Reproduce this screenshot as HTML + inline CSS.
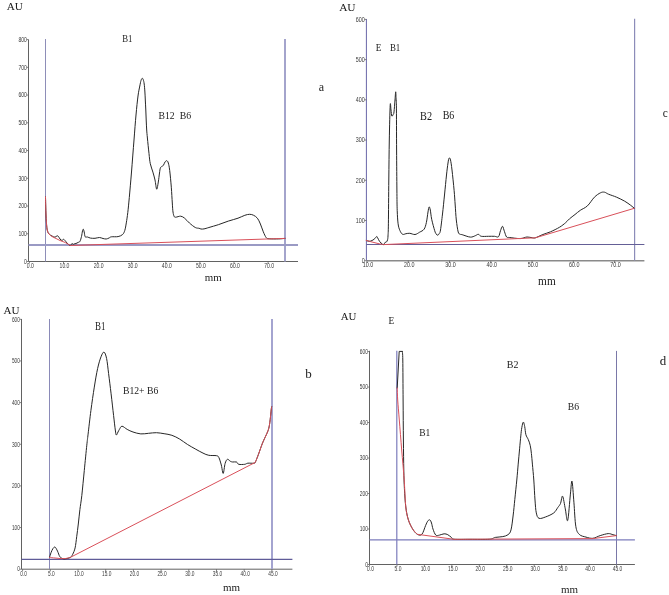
<!DOCTYPE html>
<html><head><meta charset="utf-8"><title>Chromatograms</title>
<style>
html,body{margin:0;padding:0;background:#fff;}
svg{display:block;}
.s{font-family:"Liberation Serif","Times New Roman",serif;fill:#1a1a1a;}
.t{font-family:"Liberation Sans",Arial,sans-serif;font-size:6.5px;fill:#3a3a3a;}
</style></head>
<body>
<svg width="669" height="595" viewBox="0 0 669 595">
<rect width="669" height="595" fill="#fff"/>
<line x1="28.5" y1="39.5" x2="28.5" y2="261.5" stroke="#626262" stroke-width="1"/>
<line x1="28.5" y1="261.5" x2="298" y2="261.5" stroke="#626262" stroke-width="1"/>
<line x1="26.7" y1="261.5" x2="28.5" y2="261.5" stroke="#626262" stroke-width="0.8"/>
<text transform="translate(26.90 263.75) scale(0.785 1)" class="t" text-anchor="end">0</text>
<line x1="26.7" y1="233.76" x2="28.5" y2="233.76" stroke="#626262" stroke-width="0.8"/>
<text transform="translate(26.90 236.01) scale(0.785 1)" class="t" text-anchor="end">100</text>
<line x1="26.7" y1="206.02" x2="28.5" y2="206.02" stroke="#626262" stroke-width="0.8"/>
<text transform="translate(26.90 208.27) scale(0.785 1)" class="t" text-anchor="end">200</text>
<line x1="26.7" y1="178.28" x2="28.5" y2="178.28" stroke="#626262" stroke-width="0.8"/>
<text transform="translate(26.90 180.53) scale(0.785 1)" class="t" text-anchor="end">300</text>
<line x1="26.7" y1="150.54" x2="28.5" y2="150.54" stroke="#626262" stroke-width="0.8"/>
<text transform="translate(26.90 152.79) scale(0.785 1)" class="t" text-anchor="end">400</text>
<line x1="26.7" y1="122.8" x2="28.5" y2="122.8" stroke="#626262" stroke-width="0.8"/>
<text transform="translate(26.90 125.05) scale(0.785 1)" class="t" text-anchor="end">500</text>
<line x1="26.7" y1="95.06" x2="28.5" y2="95.06" stroke="#626262" stroke-width="0.8"/>
<text transform="translate(26.90 97.31) scale(0.785 1)" class="t" text-anchor="end">600</text>
<line x1="26.7" y1="67.32" x2="28.5" y2="67.32" stroke="#626262" stroke-width="0.8"/>
<text transform="translate(26.90 69.57) scale(0.785 1)" class="t" text-anchor="end">700</text>
<line x1="26.7" y1="39.58" x2="28.5" y2="39.58" stroke="#626262" stroke-width="0.8"/>
<text transform="translate(26.90 41.83) scale(0.785 1)" class="t" text-anchor="end">800</text>
<line x1="29.4" y1="261.5" x2="29.4" y2="263.5" stroke="#626262" stroke-width="0.8"/>
<text transform="translate(30.40 267.65) scale(0.785 1)" class="t" text-anchor="middle">0.0</text>
<line x1="63.5" y1="261.5" x2="63.5" y2="263.5" stroke="#626262" stroke-width="0.8"/>
<text transform="translate(64.50 267.65) scale(0.785 1)" class="t" text-anchor="middle">10.0</text>
<line x1="97.6" y1="261.5" x2="97.6" y2="263.5" stroke="#626262" stroke-width="0.8"/>
<text transform="translate(98.60 267.65) scale(0.785 1)" class="t" text-anchor="middle">20.0</text>
<line x1="131.7" y1="261.5" x2="131.7" y2="263.5" stroke="#626262" stroke-width="0.8"/>
<text transform="translate(132.70 267.65) scale(0.785 1)" class="t" text-anchor="middle">30.0</text>
<line x1="165.8" y1="261.5" x2="165.8" y2="263.5" stroke="#626262" stroke-width="0.8"/>
<text transform="translate(166.80 267.65) scale(0.785 1)" class="t" text-anchor="middle">40.0</text>
<line x1="199.9" y1="261.5" x2="199.9" y2="263.5" stroke="#626262" stroke-width="0.8"/>
<text transform="translate(200.90 267.65) scale(0.785 1)" class="t" text-anchor="middle">50.0</text>
<line x1="234" y1="261.5" x2="234" y2="263.5" stroke="#626262" stroke-width="0.8"/>
<text transform="translate(235.00 267.65) scale(0.785 1)" class="t" text-anchor="middle">60.0</text>
<line x1="268.1" y1="261.5" x2="268.1" y2="263.5" stroke="#626262" stroke-width="0.8"/>
<text transform="translate(269.10 267.65) scale(0.785 1)" class="t" text-anchor="middle">70.0</text>
<line x1="45.5" y1="39" x2="45.5" y2="261.5" stroke="#8e8eb8" stroke-width="1"/>
<line x1="285" y1="39" x2="285" y2="261.5" stroke="#a4a4cc" stroke-width="2"/>
<line x1="28.5" y1="245" x2="298" y2="245" stroke="#9a9ac4" stroke-width="2"/>
<path d="M45.50,197.00 C45.58,200.00 45.80,210.17 46.00,215.00 C46.20,219.83 46.45,223.33 46.70,226.00 C46.95,228.67 47.12,229.67 47.50,231.00 C47.88,232.33 48.25,233.17 49.00,234.00 C49.75,234.83 51.00,235.47 52.00,236.00 C53.00,236.53 54.17,237.23 55.00,237.20 C55.83,237.17 56.42,235.92 57.00,235.80 C57.58,235.68 58.00,235.97 58.50,236.50 C59.00,237.03 59.42,238.33 60.00,239.00 C60.58,239.67 61.42,240.45 62.00,240.50 C62.58,240.55 63.00,239.30 63.50,239.30 C64.00,239.30 64.42,239.88 65.00,240.50 C65.58,241.12 66.33,242.25 67.00,243.00 C67.67,243.75 68.42,244.58 69.00,245.00 C69.58,245.42 70.00,245.75 70.50,245.50 C71.00,245.25 71.58,243.67 72.00,243.50 C72.42,243.33 72.67,244.42 73.00,244.50 C73.33,244.58 73.50,244.17 74.00,244.00 C74.50,243.83 75.33,243.75 76.00,243.50 C76.67,243.25 77.33,242.87 78.00,242.50 C78.67,242.13 79.42,242.30 80.00,241.30 C80.58,240.30 81.08,238.22 81.50,236.50 C81.92,234.78 82.20,232.22 82.50,231.00 C82.80,229.78 83.02,229.03 83.30,229.20 C83.58,229.37 83.88,230.73 84.20,232.00 C84.52,233.27 84.65,235.97 85.20,236.80 C85.75,237.63 86.62,236.78 87.50,237.00 C88.38,237.22 89.25,237.88 90.50,238.10 C91.75,238.32 93.52,238.40 95.00,238.30 C96.48,238.20 98.07,237.47 99.40,237.50 C100.73,237.53 101.87,238.25 103.00,238.50 C104.13,238.75 105.20,239.08 106.20,239.00 C107.20,238.92 108.13,238.37 109.00,238.00 C109.87,237.63 109.88,237.03 111.40,236.80 C112.92,236.57 116.23,236.98 118.10,236.60 C119.97,236.22 121.48,235.53 122.60,234.50 C123.72,233.47 124.18,232.33 124.80,230.40 C125.42,228.47 125.80,225.90 126.30,222.90 C126.80,219.90 127.30,216.63 127.80,212.40 C128.30,208.17 128.68,204.23 129.30,197.50 C129.92,190.77 130.72,181.58 131.50,172.00 C132.28,162.42 133.25,149.50 134.00,140.00 C134.75,130.50 135.33,122.33 136.00,115.00 C136.67,107.67 137.37,100.83 138.00,96.00 C138.63,91.17 139.30,88.58 139.80,86.00 C140.30,83.42 140.60,81.78 141.00,80.50 C141.40,79.22 141.82,78.42 142.20,78.30 C142.58,78.18 142.97,78.85 143.30,79.80 C143.63,80.75 143.93,81.97 144.20,84.00 C144.47,86.03 144.72,89.33 144.90,92.00 C145.08,94.67 145.15,97.00 145.30,100.00 C145.45,103.00 145.65,106.67 145.80,110.00 C145.95,113.33 146.05,116.67 146.20,120.00 C146.35,123.33 146.50,127.00 146.70,130.00 C146.90,133.00 147.02,134.07 147.40,138.00 C147.78,141.93 148.52,149.32 149.00,153.60 C149.48,157.88 149.65,160.62 150.30,163.70 C150.95,166.78 152.12,169.38 152.90,172.10 C153.68,174.82 154.37,177.15 155.00,180.00 C155.63,182.85 156.15,188.87 156.70,189.20 C157.25,189.53 157.83,184.70 158.30,182.00 C158.77,179.30 159.15,175.35 159.50,173.00 C159.85,170.65 159.97,169.03 160.40,167.90 C160.83,166.77 161.60,166.62 162.10,166.20 C162.60,165.78 162.92,166.10 163.40,165.40 C163.88,164.70 164.43,162.78 165.00,162.00 C165.57,161.22 166.25,160.53 166.80,160.70 C167.35,160.87 167.82,161.38 168.30,163.00 C168.78,164.62 169.20,166.37 169.70,170.40 C170.20,174.43 170.87,181.77 171.30,187.20 C171.73,192.63 172.02,198.87 172.30,203.00 C172.58,207.13 172.68,209.75 173.00,212.00 C173.32,214.25 173.73,215.63 174.20,216.50 C174.67,217.37 174.72,217.25 175.80,217.20 C176.88,217.15 179.23,216.03 180.70,216.20 C182.17,216.37 183.15,217.07 184.60,218.20 C186.05,219.33 187.62,221.45 189.40,223.00 C191.18,224.55 193.68,226.62 195.30,227.50 C196.92,228.38 198.15,228.05 199.10,228.30 C200.05,228.55 200.18,228.90 201.00,229.00 C201.82,229.10 202.68,229.15 204.00,228.90 C205.32,228.65 206.47,228.22 208.90,227.50 C211.33,226.78 215.37,225.67 218.60,224.60 C221.83,223.53 225.07,222.17 228.30,221.10 C231.53,220.03 235.25,219.17 238.00,218.20 C240.75,217.23 242.85,215.95 244.80,215.30 C246.75,214.65 248.23,214.30 249.70,214.30 C251.17,214.30 252.32,214.65 253.60,215.30 C254.88,215.95 256.27,216.75 257.40,218.20 C258.53,219.65 259.42,221.73 260.40,224.00 C261.38,226.27 262.33,229.53 263.30,231.80 C264.27,234.07 265.23,236.43 266.20,237.60 C267.17,238.77 267.00,238.58 269.10,238.80 C271.20,239.02 276.15,238.97 278.80,238.90 C281.45,238.83 283.97,238.48 285.00,238.40" fill="none" stroke="#262626" stroke-width="1" stroke-linejoin="round" stroke-linecap="round"/>
<path d="M45.50,197.00 C45.58,200.00 45.80,210.17 46.00,215.00 C46.20,219.83 46.45,223.33 46.70,226.00 C46.95,228.67 47.12,229.67 47.50,231.00 C47.88,232.33 48.25,233.08 49.00,234.00 C49.75,234.92 50.83,235.75 52.00,236.50 C53.17,237.25 54.67,237.83 56.00,238.50 C57.33,239.17 58.67,239.92 60.00,240.50 C61.33,241.08 62.83,241.50 64.00,242.00 C65.17,242.50 65.92,242.92 67.00,243.50 C68.08,244.08 69.92,245.17 70.50,245.50 L285,238.4" fill="none" stroke="#d9505a" stroke-width="1" stroke-linejoin="round" stroke-linecap="round"/>
<text transform="translate(6.738 10.442) scale(1.0424 1.0066)" class="s" font-size="10.75">AU</text>
<text transform="translate(122.186 41.65) scale(0.7997 0.9917)" class="s" font-size="11.0">B1</text>
<text transform="translate(158.559 119.45) scale(0.9447 0.9904)" class="s" font-size="10.25">B12</text>
<text transform="translate(179.755 119.25) scale(0.982 1.0)" class="s" font-size="10.0">B6</text>
<text transform="translate(318.768 91.421) scale(0.927 0.9936)" class="s" font-size="13.0">a</text>
<text transform="translate(204.732 280.65) scale(1.0159 0.9896)" class="s" font-size="10.75">mm</text>
<line x1="366.4" y1="19" x2="366.4" y2="260.7" stroke="#6a66a8" stroke-width="1"/>
<line x1="366.4" y1="260.7" x2="644.4" y2="260.7" stroke="#8a8a8a" stroke-width="1.5"/>
<line x1="364.6" y1="260.7" x2="366.4" y2="260.7" stroke="#626262" stroke-width="0.8"/>
<text transform="translate(364.80 262.95) scale(0.83 1)" class="t" text-anchor="end">0</text>
<line x1="364.6" y1="220.48" x2="366.4" y2="220.48" stroke="#626262" stroke-width="0.8"/>
<text transform="translate(364.80 222.73) scale(0.83 1)" class="t" text-anchor="end">100</text>
<line x1="364.6" y1="180.26" x2="366.4" y2="180.26" stroke="#626262" stroke-width="0.8"/>
<text transform="translate(364.80 182.51) scale(0.83 1)" class="t" text-anchor="end">200</text>
<line x1="364.6" y1="140.04" x2="366.4" y2="140.04" stroke="#626262" stroke-width="0.8"/>
<text transform="translate(364.80 142.29) scale(0.83 1)" class="t" text-anchor="end">300</text>
<line x1="364.6" y1="99.82" x2="366.4" y2="99.82" stroke="#626262" stroke-width="0.8"/>
<text transform="translate(364.80 102.07) scale(0.83 1)" class="t" text-anchor="end">400</text>
<line x1="364.6" y1="59.6" x2="366.4" y2="59.6" stroke="#626262" stroke-width="0.8"/>
<text transform="translate(364.80 61.85) scale(0.83 1)" class="t" text-anchor="end">500</text>
<line x1="364.6" y1="19.38" x2="366.4" y2="19.38" stroke="#626262" stroke-width="0.8"/>
<text transform="translate(364.80 21.63) scale(0.83 1)" class="t" text-anchor="end">600</text>
<line x1="367" y1="260.7" x2="367" y2="262.7" stroke="#626262" stroke-width="0.8"/>
<text transform="translate(368.00 267.30) scale(0.83 1)" class="t" text-anchor="middle">10.0</text>
<line x1="408.27" y1="260.7" x2="408.27" y2="262.7" stroke="#626262" stroke-width="0.8"/>
<text transform="translate(409.27 267.30) scale(0.83 1)" class="t" text-anchor="middle">20.0</text>
<line x1="449.54" y1="260.7" x2="449.54" y2="262.7" stroke="#626262" stroke-width="0.8"/>
<text transform="translate(450.54 267.30) scale(0.83 1)" class="t" text-anchor="middle">30.0</text>
<line x1="490.81" y1="260.7" x2="490.81" y2="262.7" stroke="#626262" stroke-width="0.8"/>
<text transform="translate(491.81 267.30) scale(0.83 1)" class="t" text-anchor="middle">40.0</text>
<line x1="532.08" y1="260.7" x2="532.08" y2="262.7" stroke="#626262" stroke-width="0.8"/>
<text transform="translate(533.08 267.30) scale(0.83 1)" class="t" text-anchor="middle">50.0</text>
<line x1="573.35" y1="260.7" x2="573.35" y2="262.7" stroke="#626262" stroke-width="0.8"/>
<text transform="translate(574.35 267.30) scale(0.83 1)" class="t" text-anchor="middle">60.0</text>
<line x1="614.62" y1="260.7" x2="614.62" y2="262.7" stroke="#626262" stroke-width="0.8"/>
<text transform="translate(615.62 267.30) scale(0.83 1)" class="t" text-anchor="middle">70.0</text>
<line x1="634.6" y1="18.8" x2="634.6" y2="260.6" stroke="#8c8cb9" stroke-width="1.2"/>
<line x1="366.4" y1="244.5" x2="644.4" y2="244.5" stroke="#645f96" stroke-width="1"/>
<path d="M366.30,240.50 C366.92,240.63 368.72,241.50 370.00,241.30 C371.28,241.10 372.90,240.08 374.00,239.30 C375.10,238.52 376.02,236.90 376.60,236.60 C377.18,236.30 377.02,236.72 377.50,237.50 C377.98,238.28 378.67,240.17 379.50,241.30 C380.33,242.43 381.83,243.75 382.50,244.30 C383.17,244.85 382.98,244.98 383.50,244.60 C384.02,244.22 385.10,242.45 385.60,242.00 C386.10,241.55 386.18,242.23 386.50,241.90 C386.82,241.57 387.25,240.98 387.50,240.00 C387.75,239.02 387.85,238.70 388.00,236.00 C388.15,233.30 388.27,233.13 388.40,223.80 C388.53,214.47 388.65,193.97 388.80,180.00 C388.95,166.03 389.07,152.47 389.30,140.00 C389.53,127.53 389.92,110.20 390.20,105.20 C390.48,100.20 390.73,108.18 391.00,110.00 C391.27,111.82 391.43,115.35 391.80,116.10 C392.17,116.85 392.83,115.20 393.20,114.50 C393.57,113.80 393.70,114.32 394.00,111.90 C394.30,109.48 394.72,103.35 395.00,100.00 C395.28,96.65 395.52,91.80 395.70,91.80 C395.88,91.80 395.98,97.77 396.10,100.00 C396.22,102.23 396.32,96.87 396.40,105.20 C396.48,113.53 396.52,135.87 396.60,150.00 C396.68,164.13 396.80,179.95 396.90,190.00 C397.00,200.05 397.00,204.67 397.20,210.30 C397.40,215.93 397.65,220.43 398.10,223.80 C398.55,227.17 399.15,228.75 399.90,230.50 C400.65,232.25 401.58,233.77 402.60,234.30 C403.62,234.83 404.80,233.87 406.00,233.70 C407.20,233.53 408.30,233.17 409.80,233.30 C411.30,233.43 413.37,234.68 415.00,234.50 C416.63,234.32 418.08,233.08 419.60,232.20 C421.12,231.32 422.97,230.83 424.10,229.20 C425.23,227.57 425.75,225.27 426.40,222.40 C427.05,219.53 427.55,214.58 428.00,212.00 C428.45,209.42 428.72,207.23 429.10,206.90 C429.48,206.57 429.87,207.93 430.30,210.00 C430.73,212.07 430.97,215.85 431.70,219.30 C432.43,222.75 433.95,228.25 434.70,230.70 C435.45,233.15 435.70,233.25 436.20,234.00 C436.70,234.75 437.18,235.28 437.70,235.20 C438.22,235.12 438.83,234.37 439.30,233.50 C439.77,232.63 439.97,233.25 440.50,230.00 C441.03,226.75 441.83,219.83 442.50,214.00 C443.17,208.17 443.83,201.50 444.50,195.00 C445.17,188.50 445.92,180.33 446.50,175.00 C447.08,169.67 447.57,165.82 448.00,163.00 C448.43,160.18 448.68,158.60 449.10,158.10 C449.52,157.60 450.02,158.02 450.50,160.00 C450.98,161.98 451.40,164.95 452.00,170.00 C452.60,175.05 453.57,184.47 454.10,190.30 C454.63,196.13 454.83,200.05 455.20,205.00 C455.57,209.95 455.80,215.50 456.30,220.00 C456.80,224.50 457.58,229.63 458.20,232.00 C458.82,234.37 459.33,233.75 460.00,234.20 C460.67,234.65 460.48,234.22 462.20,234.70 C463.92,235.18 468.12,236.93 470.30,237.10 C472.48,237.27 473.97,236.17 475.30,235.70 C476.63,235.23 477.30,234.20 478.30,234.30 C479.30,234.40 479.62,235.97 481.30,236.30 C482.98,236.63 486.20,236.30 488.40,236.30 C490.60,236.30 492.82,236.23 494.50,236.30 C496.18,236.37 497.50,237.63 498.50,236.70 C499.50,235.77 499.83,232.43 500.50,230.70 C501.17,228.97 501.83,226.13 502.50,226.30 C503.17,226.47 503.82,229.92 504.50,231.70 C505.18,233.48 505.73,236.03 506.60,237.00 C507.47,237.97 507.43,237.23 509.70,237.50 C511.97,237.77 517.32,238.68 520.20,238.60 C523.08,238.52 524.98,237.13 527.00,237.00 C529.02,236.87 530.90,237.67 532.30,237.80 C533.70,237.93 533.63,238.35 535.40,237.80 C537.17,237.25 540.38,235.50 542.90,234.50 C545.42,233.50 547.72,233.02 550.50,231.80 C553.28,230.58 557.08,228.72 559.60,227.20 C562.12,225.68 563.97,224.08 565.60,222.70 C567.23,221.32 567.83,220.27 569.40,218.90 C570.97,217.53 573.18,215.93 575.00,214.50 C576.82,213.07 578.23,211.73 580.30,210.30 C582.37,208.87 585.05,208.08 587.40,205.90 C589.75,203.72 592.22,199.38 594.40,197.20 C596.58,195.02 598.82,193.63 600.50,192.80 C602.18,191.97 603.17,191.97 604.50,192.20 C605.83,192.43 606.48,193.37 608.50,194.20 C610.52,195.03 613.90,196.03 616.60,197.20 C619.30,198.37 622.35,199.85 624.70,201.20 C627.05,202.55 629.10,204.12 630.70,205.30 C632.30,206.48 633.70,207.80 634.30,208.30" fill="none" stroke="#262626" stroke-width="1" stroke-linejoin="round" stroke-linecap="round"/>
<path d="M366.30,240.50 C367.25,240.75 370.05,241.50 372.00,242.00 C373.95,242.50 376.08,243.07 378.00,243.50 C379.92,243.93 382.58,244.42 383.50,244.60 L535.4,237.8 L634.3,208.3" fill="none" stroke="#d9505a" stroke-width="1" stroke-linejoin="round" stroke-linecap="round"/>
<text transform="translate(339.136 11.44) scale(1.038 1.0041)" class="s" font-size="11.0">AU</text>
<text transform="translate(375.673 51.45) scale(0.8405 0.993)" class="s" font-size="11.0">E</text>
<text transform="translate(389.883 51.45) scale(0.8269 1.0007)" class="s" font-size="10.75">B1</text>
<text transform="translate(420.042 119.65) scale(0.8061 1.0015)" class="s" font-size="12.75">B2</text>
<text transform="translate(442.65 119.402) scale(0.8 0.991)" class="s" font-size="12.5">B6</text>
<text transform="translate(662.696 116.823) scale(0.8903 0.9967)" class="s" font-size="12.75">c</text>
<text transform="translate(538.124 285.45) scale(0.984 0.9991)" class="s" font-size="11.5">mm</text>
<line x1="21.5" y1="319" x2="21.5" y2="569.2" stroke="#626262" stroke-width="1"/>
<line x1="21.5" y1="569.2" x2="292.4" y2="569.2" stroke="#626262" stroke-width="1"/>
<line x1="19.7" y1="569.2" x2="21.5" y2="569.2" stroke="#626262" stroke-width="0.8"/>
<text transform="translate(19.90 571.45) scale(0.74 1)" class="t" text-anchor="end">0</text>
<line x1="19.7" y1="527.55" x2="21.5" y2="527.55" stroke="#626262" stroke-width="0.8"/>
<text transform="translate(19.90 529.80) scale(0.74 1)" class="t" text-anchor="end">100</text>
<line x1="19.7" y1="485.9" x2="21.5" y2="485.9" stroke="#626262" stroke-width="0.8"/>
<text transform="translate(19.90 488.15) scale(0.74 1)" class="t" text-anchor="end">200</text>
<line x1="19.7" y1="444.25" x2="21.5" y2="444.25" stroke="#626262" stroke-width="0.8"/>
<text transform="translate(19.90 446.50) scale(0.74 1)" class="t" text-anchor="end">300</text>
<line x1="19.7" y1="402.6" x2="21.5" y2="402.6" stroke="#626262" stroke-width="0.8"/>
<text transform="translate(19.90 404.85) scale(0.74 1)" class="t" text-anchor="end">400</text>
<line x1="19.7" y1="360.95" x2="21.5" y2="360.95" stroke="#626262" stroke-width="0.8"/>
<text transform="translate(19.90 363.20) scale(0.74 1)" class="t" text-anchor="end">500</text>
<line x1="19.7" y1="319.3" x2="21.5" y2="319.3" stroke="#626262" stroke-width="0.8"/>
<text transform="translate(19.90 321.55) scale(0.74 1)" class="t" text-anchor="end">600</text>
<line x1="22.6" y1="569.2" x2="22.6" y2="571.2" stroke="#626262" stroke-width="0.8"/>
<text transform="translate(23.60 575.65) scale(0.74 1)" class="t" text-anchor="middle">0.0</text>
<line x1="50.3" y1="569.2" x2="50.3" y2="571.2" stroke="#626262" stroke-width="0.8"/>
<text transform="translate(51.30 575.65) scale(0.74 1)" class="t" text-anchor="middle">5.0</text>
<line x1="78" y1="569.2" x2="78" y2="571.2" stroke="#626262" stroke-width="0.8"/>
<text transform="translate(79.00 575.65) scale(0.74 1)" class="t" text-anchor="middle">10.0</text>
<line x1="105.7" y1="569.2" x2="105.7" y2="571.2" stroke="#626262" stroke-width="0.8"/>
<text transform="translate(106.70 575.65) scale(0.74 1)" class="t" text-anchor="middle">15.0</text>
<line x1="133.4" y1="569.2" x2="133.4" y2="571.2" stroke="#626262" stroke-width="0.8"/>
<text transform="translate(134.40 575.65) scale(0.74 1)" class="t" text-anchor="middle">20.0</text>
<line x1="161.1" y1="569.2" x2="161.1" y2="571.2" stroke="#626262" stroke-width="0.8"/>
<text transform="translate(162.10 575.65) scale(0.74 1)" class="t" text-anchor="middle">25.0</text>
<line x1="188.8" y1="569.2" x2="188.8" y2="571.2" stroke="#626262" stroke-width="0.8"/>
<text transform="translate(189.80 575.65) scale(0.74 1)" class="t" text-anchor="middle">30.0</text>
<line x1="216.5" y1="569.2" x2="216.5" y2="571.2" stroke="#626262" stroke-width="0.8"/>
<text transform="translate(217.50 575.65) scale(0.74 1)" class="t" text-anchor="middle">35.0</text>
<line x1="244.2" y1="569.2" x2="244.2" y2="571.2" stroke="#626262" stroke-width="0.8"/>
<text transform="translate(245.20 575.65) scale(0.74 1)" class="t" text-anchor="middle">40.0</text>
<line x1="271.9" y1="569.2" x2="271.9" y2="571.2" stroke="#626262" stroke-width="0.8"/>
<text transform="translate(272.90 575.65) scale(0.74 1)" class="t" text-anchor="middle">45.0</text>
<line x1="49.5" y1="319" x2="49.5" y2="569" stroke="#8a8ab8" stroke-width="1"/>
<line x1="272" y1="319" x2="272" y2="569" stroke="#a4a4d0" stroke-width="2"/>
<line x1="21.5" y1="559.4" x2="292.4" y2="559.4" stroke="#5f5b98" stroke-width="1.2"/>
<path d="M49.50,557.50 C49.75,556.70 50.42,554.20 51.00,552.70 C51.58,551.20 52.32,549.43 53.00,548.50 C53.68,547.57 54.35,546.67 55.10,547.10 C55.85,547.53 56.70,549.50 57.50,551.10 C58.30,552.70 58.97,555.42 59.90,556.70 C60.83,557.98 62.17,558.45 63.10,558.80 C64.03,559.15 64.30,559.02 65.50,558.80 C66.70,558.58 69.10,558.25 70.30,557.50 C71.50,556.75 71.90,555.90 72.70,554.30 C73.50,552.70 74.43,550.83 75.10,547.90 C75.77,544.97 76.17,540.68 76.70,536.70 C77.23,532.72 77.77,528.52 78.30,524.00 C78.83,519.48 79.32,514.33 79.90,509.60 C80.48,504.87 81.07,502.13 81.80,495.60 C82.53,489.07 83.47,478.80 84.30,470.40 C85.13,462.00 86.17,451.25 86.80,445.20 C87.43,439.15 87.42,439.87 88.10,434.10 C88.78,428.33 89.87,418.43 90.90,410.60 C91.93,402.77 93.18,394.10 94.30,387.10 C95.42,380.10 96.48,373.65 97.60,368.60 C98.72,363.55 99.93,359.55 101.00,356.80 C102.07,354.05 103.07,351.82 104.00,352.10 C104.93,352.38 105.83,354.92 106.60,358.50 C107.37,362.08 107.85,367.72 108.60,373.60 C109.35,379.48 110.27,386.80 111.10,393.80 C111.93,400.80 112.90,409.57 113.60,415.60 C114.30,421.63 114.85,426.77 115.30,430.00 C115.75,433.23 115.85,434.67 116.30,435.00 C116.75,435.33 117.48,432.93 118.00,432.00 C118.52,431.07 118.73,430.37 119.40,429.40 C120.07,428.43 120.70,426.20 122.00,426.20 C123.30,426.20 125.37,428.43 127.20,429.40 C129.03,430.37 130.73,431.25 133.00,432.00 C135.27,432.75 138.20,433.68 140.80,433.90 C143.40,434.12 146.00,433.50 148.60,433.30 C151.20,433.10 153.82,432.63 156.40,432.70 C158.98,432.77 161.52,433.27 164.10,433.70 C166.68,434.13 169.30,434.40 171.90,435.30 C174.50,436.20 177.12,437.58 179.70,439.10 C182.28,440.62 184.82,442.77 187.40,444.40 C189.98,446.03 192.60,447.45 195.20,448.90 C197.80,450.35 200.73,452.03 203.00,453.10 C205.27,454.17 206.53,454.87 208.80,455.30 C211.07,455.73 214.92,455.32 216.60,455.70 C218.28,456.08 218.12,456.05 218.90,457.60 C219.68,459.15 220.58,462.37 221.30,465.00 C222.02,467.63 222.57,473.65 223.20,473.40 C223.83,473.15 224.40,465.85 225.10,463.50 C225.80,461.15 226.52,459.67 227.40,459.30 C228.28,458.93 229.52,460.85 230.40,461.30 C231.28,461.75 231.68,461.88 232.70,462.00 C233.72,462.12 235.50,461.62 236.50,462.00 C237.50,462.38 237.32,463.92 238.70,464.30 C240.08,464.68 243.28,464.48 244.80,464.30 C246.32,464.12 246.28,463.38 247.80,463.20 C249.32,463.02 252.63,463.40 253.90,463.20 C255.17,463.00 254.65,463.45 255.40,462.00 C256.15,460.55 257.27,457.52 258.40,454.50 C259.53,451.48 261.07,446.80 262.20,443.90 C263.33,441.00 264.20,439.37 265.20,437.10 C266.20,434.83 267.43,432.70 268.20,430.30 C268.97,427.90 269.28,426.23 269.80,422.70 C270.32,419.17 270.98,411.75 271.30,409.10 C271.62,406.45 271.63,407.18 271.70,406.80" fill="none" stroke="#262626" stroke-width="1" stroke-linejoin="round" stroke-linecap="round"/>
<path d="M49.50,557.50 C50.42,557.58 53.25,557.83 55.00,558.00 C56.75,558.17 58.25,558.42 60.00,558.50 C61.75,558.58 63.78,558.68 65.50,558.50 C67.22,558.32 69.50,557.58 70.30,557.40 L253.9,463.1" fill="none" stroke="#d9505a" stroke-width="1" stroke-linejoin="round" stroke-linecap="round"/>
<path d="M253.90,463.20 C254.15,463.00 254.65,463.45 255.40,462.00 C256.15,460.55 257.27,457.52 258.40,454.50 C259.53,451.48 261.07,446.80 262.20,443.90 C263.33,441.00 264.20,439.37 265.20,437.10 C266.20,434.83 267.43,432.70 268.20,430.30 C268.97,427.90 269.28,426.23 269.80,422.70 C270.32,419.17 270.98,411.75 271.30,409.10 C271.62,406.45 271.63,407.18 271.70,406.80" fill="none" stroke="#d9505a" stroke-width="1" stroke-linejoin="round" stroke-linecap="round"/>
<text transform="translate(3.539 314.34) scale(1.0123 1.0041)" class="s" font-size="11.0">AU</text>
<text transform="translate(94.983 329.85) scale(0.6838 1.0023)" class="s" font-size="13.0">B1</text>
<text transform="translate(122.959 394.226) scale(0.8617 0.9935)" class="s" font-size="11.25">B12+ B6</text>
<text transform="translate(305.35 377.624) scale(1.0435 1.0057)" class="s" font-size="12.5">b</text>
<text transform="translate(223.03 590.55) scale(0.9988 1.0058)" class="s" font-size="11.0">mm</text>
<line x1="369.5" y1="350.8" x2="369.5" y2="564.5" stroke="#626262" stroke-width="1"/>
<line x1="369.5" y1="564.5" x2="634.9" y2="564.5" stroke="#626262" stroke-width="1"/>
<line x1="367.7" y1="564.5" x2="369.5" y2="564.5" stroke="#626262" stroke-width="0.8"/>
<text transform="translate(367.90 566.75) scale(0.757 1)" class="t" text-anchor="end">0</text>
<line x1="367.7" y1="529.01" x2="369.5" y2="529.01" stroke="#626262" stroke-width="0.8"/>
<text transform="translate(367.90 531.26) scale(0.757 1)" class="t" text-anchor="end">100</text>
<line x1="367.7" y1="493.52" x2="369.5" y2="493.52" stroke="#626262" stroke-width="0.8"/>
<text transform="translate(367.90 495.77) scale(0.757 1)" class="t" text-anchor="end">200</text>
<line x1="367.7" y1="458.03" x2="369.5" y2="458.03" stroke="#626262" stroke-width="0.8"/>
<text transform="translate(367.90 460.28) scale(0.757 1)" class="t" text-anchor="end">300</text>
<line x1="367.7" y1="422.54" x2="369.5" y2="422.54" stroke="#626262" stroke-width="0.8"/>
<text transform="translate(367.90 424.79) scale(0.757 1)" class="t" text-anchor="end">400</text>
<line x1="367.7" y1="387.05" x2="369.5" y2="387.05" stroke="#626262" stroke-width="0.8"/>
<text transform="translate(367.90 389.30) scale(0.757 1)" class="t" text-anchor="end">500</text>
<line x1="367.7" y1="351.56" x2="369.5" y2="351.56" stroke="#626262" stroke-width="0.8"/>
<text transform="translate(367.90 353.81) scale(0.757 1)" class="t" text-anchor="end">600</text>
<line x1="369.5" y1="564.5" x2="369.5" y2="566.5" stroke="#626262" stroke-width="0.8"/>
<text transform="translate(370.50 570.80) scale(0.757 1)" class="t" text-anchor="middle">0.0</text>
<line x1="396.95" y1="564.5" x2="396.95" y2="566.5" stroke="#626262" stroke-width="0.8"/>
<text transform="translate(397.95 570.80) scale(0.757 1)" class="t" text-anchor="middle">5.0</text>
<line x1="424.4" y1="564.5" x2="424.4" y2="566.5" stroke="#626262" stroke-width="0.8"/>
<text transform="translate(425.40 570.80) scale(0.757 1)" class="t" text-anchor="middle">10.0</text>
<line x1="451.85" y1="564.5" x2="451.85" y2="566.5" stroke="#626262" stroke-width="0.8"/>
<text transform="translate(452.85 570.80) scale(0.757 1)" class="t" text-anchor="middle">15.0</text>
<line x1="479.3" y1="564.5" x2="479.3" y2="566.5" stroke="#626262" stroke-width="0.8"/>
<text transform="translate(480.30 570.80) scale(0.757 1)" class="t" text-anchor="middle">20.0</text>
<line x1="506.75" y1="564.5" x2="506.75" y2="566.5" stroke="#626262" stroke-width="0.8"/>
<text transform="translate(507.75 570.80) scale(0.757 1)" class="t" text-anchor="middle">25.0</text>
<line x1="534.2" y1="564.5" x2="534.2" y2="566.5" stroke="#626262" stroke-width="0.8"/>
<text transform="translate(535.20 570.80) scale(0.757 1)" class="t" text-anchor="middle">30.0</text>
<line x1="561.65" y1="564.5" x2="561.65" y2="566.5" stroke="#626262" stroke-width="0.8"/>
<text transform="translate(562.65 570.80) scale(0.757 1)" class="t" text-anchor="middle">35.0</text>
<line x1="589.1" y1="564.5" x2="589.1" y2="566.5" stroke="#626262" stroke-width="0.8"/>
<text transform="translate(590.10 570.80) scale(0.757 1)" class="t" text-anchor="middle">40.0</text>
<line x1="616.55" y1="564.5" x2="616.55" y2="566.5" stroke="#626262" stroke-width="0.8"/>
<text transform="translate(617.55 570.80) scale(0.757 1)" class="t" text-anchor="middle">45.0</text>
<line x1="396.8" y1="350.8" x2="396.8" y2="564.5" stroke="#7c7cbc" stroke-width="1.2"/>
<line x1="616.5" y1="350.9" x2="616.5" y2="564.5" stroke="#7a78a8" stroke-width="1"/>
<line x1="369.5" y1="539.8" x2="634.9" y2="539.8" stroke="#7c7cbc" stroke-width="1.2"/>
<path d="M397.20,388.00 L398.20,370.00 L399.20,351.40 L402.30,351.40" fill="none" stroke="#262626" stroke-width="1" stroke-linejoin="round" stroke-linecap="round"/>
<path d="M402.30,351.40 C402.38,352.83 402.67,351.90 402.80,360.00 C402.93,368.10 403.00,386.67 403.10,400.00 C403.20,413.33 403.28,428.33 403.40,440.00 C403.52,451.67 403.63,461.92 403.80,470.00 C403.97,478.08 404.07,482.33 404.40,488.50 C404.73,494.67 405.13,501.77 405.80,507.00 C406.47,512.23 407.25,516.22 408.40,519.90 C409.55,523.58 411.22,526.70 412.70,529.10 C414.18,531.50 415.77,533.43 417.30,534.30 C418.83,535.17 420.52,535.77 421.90,534.30 C423.28,532.83 424.62,527.72 425.60,525.50 C426.58,523.28 427.08,521.93 427.80,521.00 C428.52,520.07 429.28,519.57 429.90,519.90 C430.52,520.23 430.98,521.47 431.50,523.00 C432.02,524.53 432.28,527.08 433.00,529.10 C433.72,531.12 434.72,534.10 435.80,535.10 C436.88,536.10 438.12,535.32 439.50,535.10 C440.88,534.88 442.72,533.87 444.10,533.80 C445.48,533.73 446.57,534.08 447.80,534.70 C449.03,535.32 450.42,536.75 451.50,537.50 C452.58,538.25 451.22,538.90 454.30,539.20 C457.38,539.50 464.17,539.30 470.00,539.30 C475.83,539.30 485.08,539.52 489.30,539.20 C493.52,538.88 493.05,537.83 495.30,537.40 C497.55,536.97 500.68,537.05 502.80,536.60 C504.92,536.15 506.63,535.82 508.00,534.70 C509.37,533.58 510.13,533.18 511.00,529.90 C511.87,526.62 512.57,520.07 513.20,515.00 C513.83,509.93 514.20,505.33 514.80,499.50 C515.40,493.67 516.23,485.90 516.80,480.00 C517.37,474.10 517.73,469.30 518.20,464.10 C518.67,458.90 519.17,453.50 519.60,448.80 C520.03,444.10 520.43,439.43 520.80,435.90 C521.17,432.37 521.38,429.90 521.80,427.60 C522.22,425.30 522.82,422.28 523.30,422.10 C523.78,421.92 524.27,424.40 524.70,426.50 C525.13,428.60 525.32,432.55 525.90,434.70 C526.48,436.85 527.48,437.63 528.20,439.40 C528.92,441.17 529.67,442.95 530.20,445.30 C530.73,447.65 531.03,450.37 531.40,453.50 C531.77,456.63 532.00,459.68 532.40,464.10 C532.80,468.52 533.37,474.02 533.80,480.00 C534.23,485.98 534.58,494.52 535.00,500.00 C535.42,505.48 535.63,509.85 536.30,512.90 C536.97,515.95 537.43,517.63 539.00,518.30 C540.57,518.97 543.23,517.80 545.70,516.90 C548.17,516.00 551.78,514.47 553.80,512.90 C555.82,511.33 556.68,509.07 557.80,507.50 C558.92,505.93 559.70,505.38 560.50,503.50 C561.30,501.62 561.80,495.30 562.60,496.20 C563.40,497.10 564.45,504.87 565.30,508.90 C566.15,512.93 566.85,522.87 567.70,520.40 C568.55,517.93 569.68,500.63 570.40,494.10 C571.12,487.57 571.42,479.85 572.00,481.20 C572.58,482.55 573.27,494.68 573.90,502.20 C574.53,509.72 574.90,520.93 575.80,526.30 C576.70,531.67 577.60,532.60 579.30,534.40 C581.00,536.20 583.75,536.45 586.00,537.10 C588.25,537.75 590.43,538.55 592.80,538.30 C595.17,538.05 597.63,536.38 600.20,535.60 C602.77,534.82 606.08,533.75 608.20,533.60 C610.32,533.45 611.55,534.37 612.90,534.70 C614.25,535.03 615.73,535.45 616.30,535.60" fill="none" stroke="#262626" stroke-width="1" stroke-linejoin="round" stroke-linecap="round"/>
<path d="M397.20,388.00 C397.28,390.00 397.35,394.67 397.70,400.00 C398.05,405.33 398.63,411.67 399.30,420.00 C399.97,428.33 400.88,440.00 401.70,450.00 C402.52,460.00 403.52,470.50 404.20,480.00 C404.88,489.50 405.10,500.35 405.80,507.00 C406.50,513.65 407.25,516.22 408.40,519.90 C409.55,523.58 411.22,526.70 412.70,529.10 C414.18,531.50 416.53,533.43 417.30,534.30 L454,539.3 L592.8,538.6 L616.3,535.6" fill="none" stroke="#d9505a" stroke-width="1" stroke-linejoin="round" stroke-linecap="round"/>
<text transform="translate(340.741 320.441) scale(0.9929 0.9905)" class="s" font-size="11.0">AU</text>
<text transform="translate(388.467 324.45) scale(0.8985 0.9963)" class="s" font-size="10.5">E</text>
<text transform="translate(506.75 367.55) scale(0.8696 0.99)" class="s" font-size="11.5">B2</text>
<text transform="translate(567.861 410.332) scale(0.8763 0.9905)" class="s" font-size="11.0">B6</text>
<text transform="translate(419.164 435.55) scale(0.8477 0.9966)" class="s" font-size="11.25">B1</text>
<text transform="translate(659.734 364.923) scale(1.0109 0.9972)" class="s" font-size="12.75">d</text>
<text transform="translate(560.93 592.85) scale(1.022 0.9896)" class="s" font-size="10.75">mm</text>
</svg>
</body></html>
